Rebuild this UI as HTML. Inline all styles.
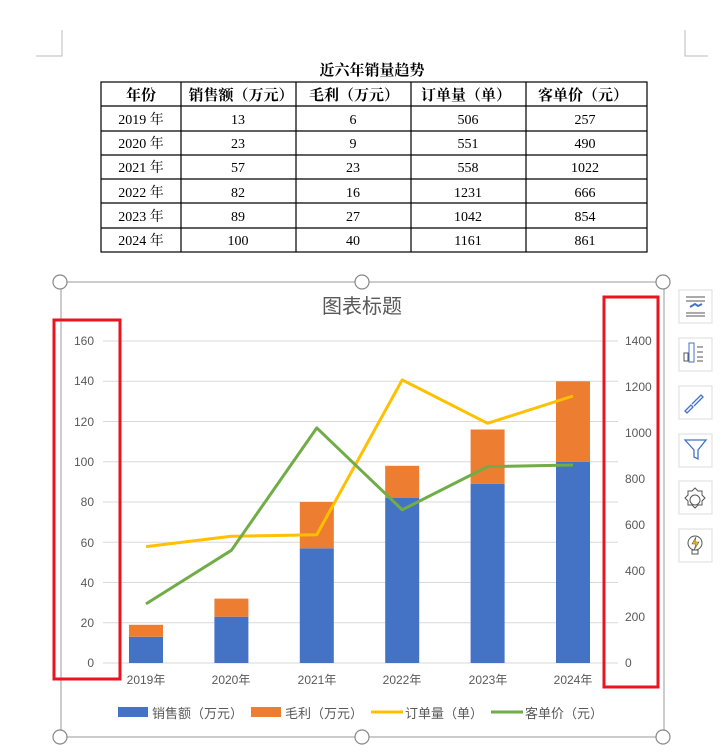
<!DOCTYPE html>
<html><head><meta charset="utf-8"><style>
body{margin:0;background:#fff;width:723px;height:753px;overflow:hidden;font-family:"Liberation Sans","Noto Sans CJK SC",sans-serif}
</style></head><body>
<svg width="723" height="753" xmlns="http://www.w3.org/2000/svg" style="position:absolute;left:0;top:0;font-family:'Liberation Sans','Noto Sans CJK SC',sans-serif">
<path d="M62 30V56H36" fill="none" stroke="#bbb"/>
<path d="M685 30V56H708" fill="none" stroke="#bbb"/>
<text x="372" y="75" font-size="15" font-weight="bold" text-anchor="middle" font-family="'Noto Serif CJK SC',serif">近六年销量趋势</text>
<g stroke="#000" stroke-width="1.2" fill="none">
<rect x="101" y="82" width="546" height="170"/>
<line x1="101" y1="106" x2="647" y2="106"/>
<line x1="101" y1="131" x2="647" y2="131"/>
<line x1="101" y1="155" x2="647" y2="155"/>
<line x1="101" y1="179" x2="647" y2="179"/>
<line x1="101" y1="203" x2="647" y2="203"/>
<line x1="101" y1="228" x2="647" y2="228"/>
<line x1="181" y1="82" x2="181" y2="252"/>
<line x1="296" y1="82" x2="296" y2="252"/>
<line x1="411" y1="82" x2="411" y2="252"/>
<line x1="526" y1="82" x2="526" y2="252"/>
</g>
<g font-size="15" font-weight="bold" text-anchor="middle" font-family="'Noto Serif CJK SC',serif">
<text x="141" y="100">年份</text><text x="241" y="100">销售额（万元）</text><text x="354" y="100">毛利（万元）</text><text x="466" y="100">订单量（单）</text><text x="583" y="100">客单价（元）</text>
</g>
<g font-size="14" text-anchor="middle" font-family="'Liberation Serif','Noto Serif CJK SC',serif">
<text x="141" y="124">2019 年</text><text x="238" y="124">13</text><text x="353" y="124">6</text><text x="468" y="124">506</text><text x="585" y="124">257</text>
<text x="141" y="148">2020 年</text><text x="238" y="148">23</text><text x="353" y="148">9</text><text x="468" y="148">551</text><text x="585" y="148">490</text>
<text x="141" y="172">2021 年</text><text x="238" y="172">57</text><text x="353" y="172">23</text><text x="468" y="172">558</text><text x="585" y="172">1022</text>
<text x="141" y="197">2022 年</text><text x="238" y="197">82</text><text x="353" y="197">16</text><text x="468" y="197">1231</text><text x="585" y="197">666</text>
<text x="141" y="221">2023 年</text><text x="238" y="221">89</text><text x="353" y="221">27</text><text x="468" y="221">1042</text><text x="585" y="221">854</text>
<text x="141" y="245">2024 年</text><text x="238" y="245">100</text><text x="353" y="245">40</text><text x="468" y="245">1161</text><text x="585" y="245">861</text>
</g>
<rect x="61" y="282" width="603" height="455" fill="none" stroke="#ccc" stroke-width="2"/>
<g fill="#fff" stroke="#888" stroke-width="1.2">
<circle cx="60" cy="282" r="7"/><circle cx="362" cy="282" r="7"/><circle cx="663" cy="282" r="7"/>
<circle cx="60" cy="737" r="7"/><circle cx="362" cy="737" r="7"/><circle cx="663" cy="737" r="7"/>
</g>
<text x="362" y="313" font-size="20" fill="#595959" text-anchor="middle">图表标题</text>
<g stroke="#d9d9d9" stroke-width="1">
<line x1="103" y1="341" x2="618" y2="341"/><line x1="103" y1="381.3" x2="618" y2="381.3"/>
<line x1="103" y1="421.5" x2="618" y2="421.5"/><line x1="103" y1="461.8" x2="618" y2="461.8"/>
<line x1="103" y1="502" x2="618" y2="502"/><line x1="103" y1="542.3" x2="618" y2="542.3"/>
<line x1="103" y1="582.5" x2="618" y2="582.5"/><line x1="103" y1="622.8" x2="618" y2="622.8"/>
<line x1="103" y1="663" x2="618" y2="663"/>
</g>
<g font-size="12" fill="#595959" text-anchor="end">
<text x="94" y="345">160</text><text x="94" y="385">140</text><text x="94" y="426">120</text><text x="94" y="466">100</text><text x="94" y="506">80</text><text x="94" y="547">60</text><text x="94" y="587">40</text><text x="94" y="627">20</text><text x="94" y="667">0</text>
</g>
<g font-size="12" fill="#595959">
<text x="625" y="345">1400</text><text x="625" y="391">1200</text><text x="625" y="437">1000</text><text x="625" y="483">800</text><text x="625" y="529">600</text><text x="625" y="575">400</text><text x="625" y="621">200</text><text x="625" y="667">0</text>
</g>
<g fill="#4472c4">
<rect x="129" y="636.8" width="34" height="26.2"/><rect x="214.4" y="616.7" width="34" height="46.3"/><rect x="299.8" y="548.3" width="34" height="114.7"/><rect x="385.2" y="498" width="34" height="165"/><rect x="470.6" y="483.9" width="34" height="179.1"/><rect x="556" y="461.8" width="34" height="201.2"/>
</g>
<g fill="#ed7d31">
<rect x="129" y="624.8" width="34" height="12"/><rect x="214.4" y="598.6" width="34" height="18.1"/><rect x="299.8" y="502" width="34" height="46.3"/><rect x="385.2" y="465.8" width="34" height="32.2"/><rect x="470.6" y="429.5" width="34" height="54.4"/><rect x="556" y="381.3" width="34" height="80.5"/>
</g>
<polyline points="146,546.6 231.4,536.3 316.8,534.7 402.2,379.9 487.6,423.3 573,396" fill="none" stroke="#ffc000" stroke-width="3" stroke-linejoin="round"/>
<polyline points="146,603.9 231.4,550.3 316.8,427.9 402.2,509.8 487.6,466.6 573,465" fill="none" stroke="#70ad47" stroke-width="3" stroke-linejoin="round"/>
<g font-size="12" fill="#595959" text-anchor="middle">
<text x="146" y="684">2019年</text><text x="231" y="684">2020年</text><text x="317" y="684">2021年</text><text x="402" y="684">2022年</text><text x="488" y="684">2023年</text><text x="573" y="684">2024年</text>
</g>
<g font-size="13" fill="#595959">
<rect x="118" y="707" width="30" height="10" fill="#4472c4"/><text x="152" y="718">销售额（万元）</text>
<rect x="251" y="707" width="30" height="10" fill="#ed7d31"/><text x="285" y="718">毛利（万元）</text>
<line x1="371" y1="712" x2="403" y2="712" stroke="#ffc000" stroke-width="3"/><text x="405" y="718">订单量（单）</text>
<line x1="491" y1="712" x2="523" y2="712" stroke="#70ad47" stroke-width="3"/><text x="525" y="718">客单价（元）</text>
</g>
<rect x="54" y="320" width="66" height="359" fill="none" stroke="#e8141e" stroke-width="3"/>
<rect x="604" y="297" width="54" height="390" fill="none" stroke="#e8141e" stroke-width="3"/>
<g fill="#fff" stroke="#ddd">
<rect x="679" y="290" width="33" height="33"/><rect x="679" y="338" width="33" height="33"/><rect x="679" y="386" width="33" height="33"/><rect x="679" y="434" width="33" height="33"/><rect x="679" y="481" width="33" height="33"/><rect x="679" y="529" width="33" height="33"/>
</g>
<g stroke="#555" stroke-width="1" fill="none">
<line x1="686" y1="297" x2="705" y2="297"/><line x1="686" y1="301" x2="705" y2="301"/><line x1="686" y1="313" x2="705" y2="313"/><line x1="686" y1="316" x2="705" y2="316"/>
<rect x="684" y="353" width="4" height="8"/><line x1="697" y1="347" x2="703" y2="347"/><line x1="697" y1="352" x2="703" y2="352"/><line x1="697" y1="357" x2="703" y2="357"/><line x1="697" y1="361" x2="703" y2="361"/>
<circle cx="695" cy="500" r="5"/><path d="M695 488l3 3h4v4l3 3-3 3v4h-4l-3 3-3-3h-4v-4l-3-3 3-3v-4h4z"/>
<circle cx="695" cy="543" r="7"/><rect x="692" y="550" width="6" height="4"/>
</g>
<rect x="689" y="343" width="5" height="19" fill="none" stroke="#4472c4"/>
<path d="M690 307l5-3 3 2 4-2" stroke="#4472c4" stroke-width="2" fill="none"/>
<path d="M685 411l6-6 2 2-6 6zM692 404l9-9 2 2-9 9" stroke="#4472c4" fill="none" stroke-width="1.3"/>
<path d="M685 440h21l-8 10v9l-4-2v-7z" stroke="#4472c4" fill="none" stroke-width="1.3"/>
<path d="M696 537l-4 7h4l-2 6 5-8h-4z" fill="#ffc000" stroke="#555" stroke-width="0.6"/>
</svg>
</body></html>
